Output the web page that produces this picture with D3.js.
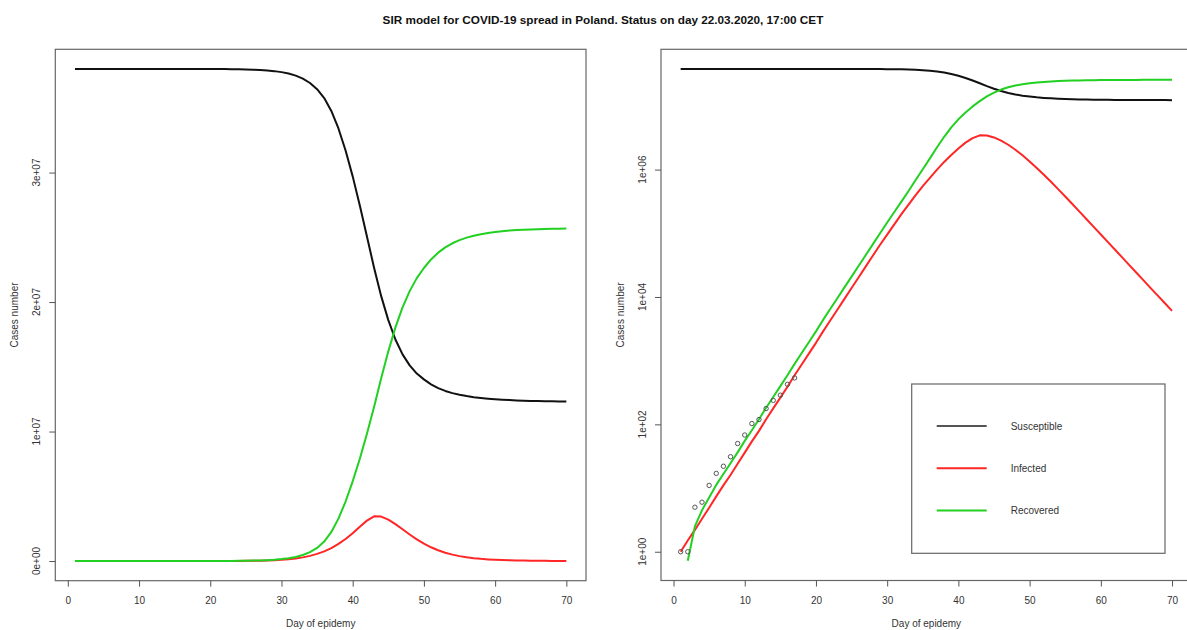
<!DOCTYPE html>
<html>
<head>
<meta charset="utf-8">
<script src="https://cdn.jsdelivr.net/npm/d3@7"></script>
<style>
  html, body { margin: 0; padding: 0; background: #fff; }
  svg { display: block; font-family: "Liberation Sans", Arial, sans-serif; }
</style>
</head>
<body>
<svg id="chart" width="1187" height="630"></svg>
<script>
// ---------------- DATA ----------------
const days = d3.range(1, 71);

const susceptible = [
  38000000, 38000000, 38000000, 38000000, 38000000, 38000000, 38000000, 38000000, 38000000, 38000000,
  37999900, 37999800, 37999700, 37999600, 37999300, 37999000, 37998500, 37997800, 37996800, 37995200,
  37992800, 37989300, 37984100, 37976500, 37965300, 37948700, 37924100, 37887700, 37833900, 37756600,
  37646600, 37486600, 37256600, 36916600, 36436600, 35756600, 34756600, 33406600, 31706600, 29706600,
  27456600, 25056600, 22656600, 20456600, 18606600, 17106600, 15956600, 15106600, 14476600, 14026600,
  13646600, 13356600, 13136600, 12966600, 12836600, 12736600, 12656600, 12591600, 12536600, 12491600,
  12456600, 12426600, 12401600, 12381600, 12364600, 12350600, 12339600, 12330600, 12323600, 12318600
];

const infected = [
  1, 1.5, 2.2, 3.3, 4.9, 7.4, 11, 16, 24, 36,
  54, 79, 120, 178, 263, 389, 589, 871, 1288, 1905,
  2884, 4266, 6310, 9333, 13800, 20400, 30200, 44700, 66100, 95500,
  138000, 200000, 282000, 398000, 550000, 741000, 1000000, 1320000, 1700000, 2138000,
  2650000, 3120000, 3450000, 3430000, 3200000, 2851000, 2455000, 2051000, 1675000, 1343000,
  1062000, 830000, 643000, 494000, 378000, 288000, 219000, 166000, 126000, 95700,
  72600, 55100, 41800, 31700, 24000, 18200, 13800, 10500, 7960, 6040
];

const recovered = [
  0, 0.72, 2.5, 4.5, 7.1, 11.2, 16.6, 24.5, 36.3, 55,
  81, 120, 182, 269, 398, 589, 891, 1318, 1950, 2884,
  4365, 6457, 9550, 14125, 20893, 30903, 45709, 67608, 100000, 147900,
  215400, 313400, 461400, 685400, 1013400, 1502400, 2243400, 3273400, 4593400, 6155400,
  7893400, 9823400, 11893400, 14113400, 16193400, 18042400, 19588400, 20842400, 21848400, 22630400,
  23291400, 23813400, 24220400, 24539400, 24785400, 24975400, 25124400, 25242400, 25337400, 25412700,
  25470800, 25518300, 25556600, 25586700, 25611400, 25631200, 25646600, 25658900, 25668400, 25675400
];

// observed confirmed cases (circles on log panel)
const obsDays  = [1, 2, 3, 4, 5, 6, 7, 8, 9, 10, 11, 12, 13, 14, 15, 16, 17];
const obsCases = [1, 1, 5, 6, 11, 17, 22, 31, 50, 68, 103, 119, 177, 238, 287, 425, 536];

const xTicks = [0, 10, 20, 30, 40, 50, 60, 70];
const linTicks = [0, 1e7, 2e7, 3e7];
const linTickLabels = ["0e+00", "1e+07", "2e+07", "3e+07"];
const logTicks = [1, 1e2, 1e4, 1e6];
const logTickLabels = ["1e+00", "1e+02", "1e+04", "1e+06"];

const seriesNames = ["Susceptible", "Infected", "Recovered"];
const seriesColors = ["#111111", "#ff2626", "#22d022"];
const legendColors = ["#555555", "#ff2626", "#22d022"];

const title = "SIR model for COVID-19 spread in Poland. Status on day 22.03.2020, 17:00 CET";
const xTitle = "Day of epidemy";
const yTitle = "Cases number";

// ---------------- LAYOUT ----------------
const svg = d3.select("#chart");
const panels = [
  { x0: 55.3, x1: 586.0, y0: 49.3, y1: 580.7, log: false },
  { x0: 661.0, x1: 1191.7, y0: 49.3, y1: 580.5, log: true }
];
const series = [susceptible, infected, recovered];

svg.append("text")
  .attr("x", 603).attr("y", 24)
  .attr("text-anchor", "middle")
  .attr("font-weight", "bold")
  .attr("font-size", 11.75)
  .attr("fill", "#111")
  .text(title);

function rExtend(lo, hi) { const s = hi - lo; return [lo - 0.04 * s, hi + 0.04 * s]; }

panels.forEach(p => {
  const g = svg.append("g");
  const x = d3.scaleLinear().domain(rExtend(d3.min(days), d3.max(days))).range([p.x0, p.x1]);
  let y;
  if (!p.log) {
    const all = [].concat(...series);
    y = d3.scaleLinear().domain(rExtend(d3.min(all), d3.max(all))).range([p.y1, p.y0]);
  } else {
    const all = [].concat(...series, obsCases).filter(v => v > 0).map(v => Math.log10(v));
    const ext = rExtend(d3.min(all), d3.max(all));
    y = d3.scaleLog().domain([Math.pow(10, ext[0]), Math.pow(10, ext[1])]).range([p.y1, p.y0]);
  }

  // lines
  series.forEach((vals, i) => {
    const pts = days.map((d, k) => [d, vals[k]]).filter(d => !p.log || d[1] > 0);
    g.append("path")
      .datum(pts)
      .attr("fill", "none")
      .attr("stroke", seriesColors[i])
      .attr("stroke-width", 2)
      .attr("stroke-linejoin", "round")
      .attr("d", d3.line().x(d => x(d[0])).y(d => y(d[1])));
  });

  if (p.log) {
    g.selectAll("circle.obs")
      .data(obsDays.map((d, k) => [d, obsCases[k]]))
      .join("circle")
      .attr("cx", d => x(d[0]))
      .attr("cy", d => y(d[1]))
      .attr("r", 2.2)
      .attr("fill", "none")
      .attr("stroke", "#555")
      .attr("stroke-width", 1);
  }

  // frame
  g.append("rect")
    .attr("x", p.x0).attr("y", p.y0)
    .attr("width", p.x1 - p.x0).attr("height", p.y1 - p.y0)
    .attr("fill", "none").attr("stroke", "#666").attr("stroke-width", 1.2);

  // x axis
  const xa = g.append("g").attr("transform", `translate(0,${p.y1})`)
    .call(d3.axisBottom(x).tickValues(xTicks).tickSize(6).tickSizeOuter(0).tickPadding(10));
  xa.select(".domain").remove();
  xa.selectAll("line").attr("stroke", "#555");
  xa.selectAll("text").attr("font-size", 10).attr("fill", "#333").attr("font-family", "Liberation Sans, Arial, sans-serif");

  // y axis
  const ticks = p.log ? logTicks : linTicks;
  const labels = p.log ? logTickLabels : linTickLabels;
  const ya = g.append("g").attr("transform", `translate(${p.x0},0)`)
    .call(d3.axisLeft(y).tickValues(ticks).tickSize(6).tickFormat(() => ""));
  ya.select(".domain").remove();
  ya.selectAll("line").attr("stroke", "#555");
  ticks.forEach((t, i) => {
    const tx = p.x0 - 15, ty = y(t);
    g.append("text")
      .attr("x", tx).attr("y", ty)
      .attr("transform", `rotate(-90,${tx},${ty})`)
      .attr("text-anchor", "middle")
      .attr("font-size", 10).attr("fill", "#333")
      .text(labels[i]);
  });

  // axis titles
  g.append("text")
    .attr("x", (p.x0 + p.x1) / 2).attr("y", 627)
    .attr("text-anchor", "middle").attr("font-size", 10).attr("fill", "#333")
    .text(xTitle);
  const yx = p.x0 - 37, yy = (p.y0 + p.y1) / 2;
  g.append("text")
    .attr("x", yx).attr("y", yy)
    .attr("transform", `rotate(-90,${yx},${yy})`)
    .attr("text-anchor", "middle").attr("font-size", 10).attr("fill", "#333")
    .text(yTitle);

  // legend on log panel
  if (p.log) {
    const lg = svg.append("g");
    lg.append("rect")
      .attr("x", 911.7).attr("y", 384).attr("width", 253.3).attr("height", 169.3)
      .attr("fill", "#fff").attr("stroke", "#666").attr("stroke-width", 1.2);
    seriesNames.forEach((n, i) => {
      const ly = 426 + i * 42.3;
      lg.append("line").attr("x1", 936.7).attr("x2", 986.7).attr("y1", ly).attr("y2", ly)
        .attr("stroke", legendColors[i]).attr("stroke-width", 2);
      lg.append("text").attr("x", 1010.7).attr("y", ly + 3.5)
        .attr("font-size", 10).attr("fill", "#333").text(n);
    });
  }
});
</script>
</body>
</html>
